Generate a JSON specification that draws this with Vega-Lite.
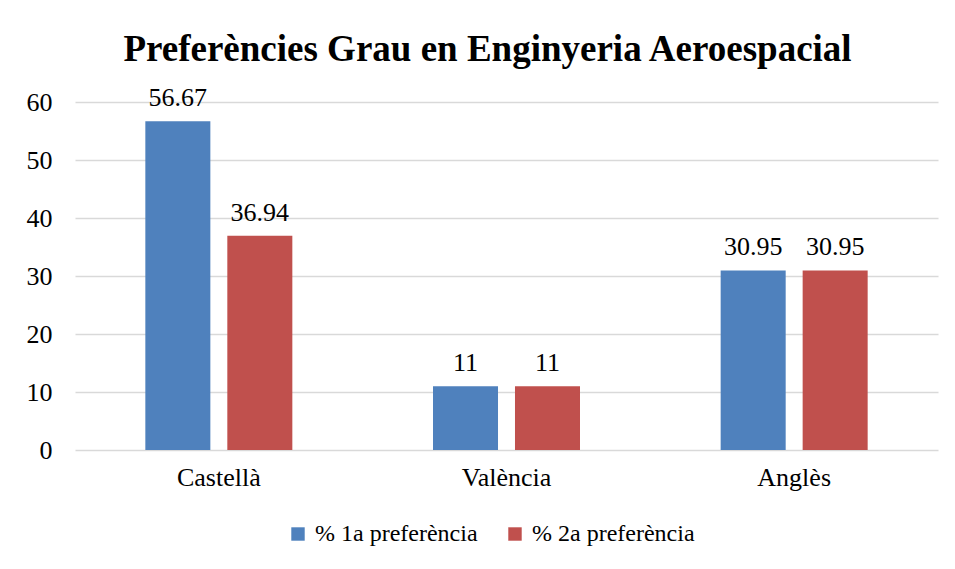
{
  "$schema": "https://vega.github.io/schema/vega-lite/v6.json",
  "autosize": {"type": "none"},
  "width": 863,
  "height": 348,
  "padding": {"left": 75, "top": 102, "right": 17, "bottom": 119},
  "background": "white",
  "title": {
    "text": "Preferències Grau en Enginyeria Aeroespacial",
    "font": "Liberation Serif",
    "fontSize": 37,
    "fontWeight": "bold",
    "color": "#000000",
    "anchor": "middle",
    "frame": "group",
    "dx": -19,
    "baseline": "alphabetic",
    "offset": -13
  },
  "data": {
    "values": [
      {"idioma": "Castellà", "serie": "% 1a preferència", "valor": 56.67},
      {"idioma": "Castellà", "serie": "% 2a preferència", "valor": 36.94},
      {"idioma": "València", "serie": "% 1a preferència", "valor": 11},
      {"idioma": "València", "serie": "% 2a preferència", "valor": 11},
      {"idioma": "Anglès", "serie": "% 1a preferència", "valor": 30.95},
      {"idioma": "Anglès", "serie": "% 2a preferència", "valor": 30.95}
    ]
  },
  "encoding": {
    "x": {
      "field": "idioma",
      "type": "nominal",
      "sort": ["Castellà", "València", "Anglès"],
      "scale": {"paddingInner": 0.489, "paddingOuter": 0.2445},
      "axis": {
        "title": null,
        "labelAngle": 0,
        "labelFont": "Liberation Serif",
        "labelFontSize": 26,
        "labelColor": "#000000",
        "labelPadding": 14,
        "domain": false,
        "ticks": false,
        "grid": false
      }
    },
    "xOffset": {
      "field": "serie",
      "type": "nominal",
      "scale": {"paddingInner": 0.207, "paddingOuter": 0}
    },
    "y": {
      "field": "valor",
      "type": "quantitative",
      "scale": {"domain": [0, 60], "nice": false},
      "axis": {
        "title": null,
        "values": [0, 10, 20, 30, 40, 50, 60],
        "labelFont": "Liberation Serif",
        "labelFontSize": 26,
        "labelColor": "#000000",
        "labelPadding": 23,
        "domain": false,
        "ticks": false,
        "grid": true,
        "gridColor": "#d9d9d9",
        "gridWidth": 1.5
      }
    }
  },
  "layer": [
    {
      "mark": {"type": "bar"},
      "encoding": {
        "color": {
          "field": "serie",
          "type": "nominal",
          "scale": {"range": ["#4F81BD", "#C0504D"]},
          "legend": {
            "title": null,
            "orient": "none",
            "direction": "horizontal",
            "legendX": 211,
            "legendY": 420,
            "symbolType": "square",
            "symbolSize": 180,
            "symbolStrokeWidth": 0,
            "labelFont": "Liberation Serif",
            "labelFontSize": 24,
            "labelColor": "#000000",
            "labelLimit": 400,
            "labelOffset": 5,
            "columnPadding": 25
          }
        }
      }
    },
    {
      "mark": {
        "type": "text",
        "baseline": "bottom",
        "dy": -10,
        "font": "Liberation Serif",
        "fontSize": 26,
        "color": "#000000"
      },
      "encoding": {
        "text": {"field": "valor", "type": "quantitative"}
      }
    }
  ],
  "config": {"view": {"stroke": null}}
}
